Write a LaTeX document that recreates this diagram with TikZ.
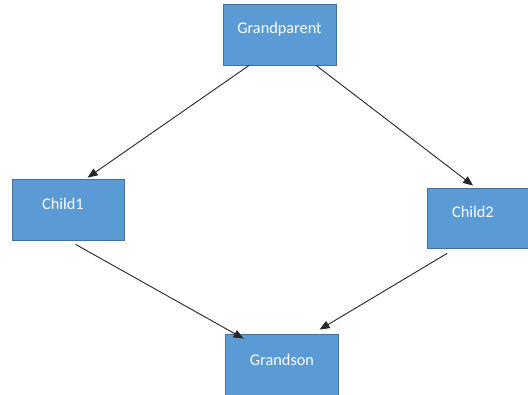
\documentclass[tikz,border=0pt]{standalone}
\usepackage{fontspec}
\setmainfont{Carlito}
\usetikzlibrary{arrows.meta}
\definecolor{boxfill}{HTML}{5B9BD5}
\definecolor{boxline}{HTML}{41719C}
\begin{document}
\begin{tikzpicture}[x=1pt,y=-1pt,
  famblock/.style={draw=boxline,fill=boxfill,line width=0.8pt,inner sep=0pt},
  famlabel/.style={text=white,inner sep=0pt,font=\fontsize{16.3}{19}\selectfont},
  link/.style={draw=black!85,line width=0.9pt,-{Triangle[length=10pt,width=8pt]}}]
\useasboundingbox (0,0) rectangle (528,394);
% family boxes
\node[famblock,minimum width=113pt,minimum height=61pt] (gp) at (279.5,34.5) {};
\node[famlabel] (gpl) at (279.5,29) {Grandparent};
\node[famblock,minimum width=112pt,minimum height=61pt] (c1) at (68,209.5) {};
\node[famlabel] (c1l) at (63,204) {Child1};
\node[famblock,minimum width=104pt,minimum height=60pt] (c2) at (479.5,218) {};
\node[famlabel] (c2l) at (473,212) {Child2};
\node[famblock,minimum width=113pt,minimum height=62pt] (gs) at (281.5,365) {};
\node[famlabel] (gsl) at (282,360) {Grandson};
% connectors
\draw[link] ([xshift=26.5pt]gp.south west) -- ([xshift=76pt,yshift=1pt]c1.north west);
\draw[link] ([xshift=93.5pt]gp.south west) -- ([xshift=46pt,yshift=2pt]c2.north west);
\draw[link] ([xshift=64pt,yshift=-4pt]c1.south west) -- ([xshift=19pt,yshift=-5pt]gs.north west);
\draw[link] ([xshift=20pt,yshift=-5pt]c2.south west) -- ([xshift=95pt,yshift=4pt]gs.north west);
\end{tikzpicture}
\end{document}
